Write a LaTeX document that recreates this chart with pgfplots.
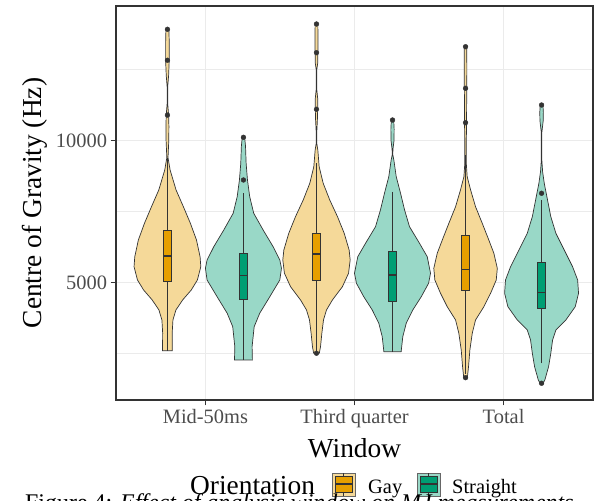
\documentclass[border=0pt]{standalone}
\usepackage{fontspec}
\setmainfont{Liberation Serif}
\usepackage{pgfplots}
\pgfplotsset{compat=1.18}
\usepgfplotslibrary{fillbetween,statistics}
\usepackage{pgfplotstable}

\definecolor{gayL}{RGB}{245,217,153}
\definecolor{strL}{RGB}{153,216,199}
\definecolor{gayD}{HTML}{E69F00}
\definecolor{strD}{HTML}{009E73}
\definecolor{gridc}{HTML}{EBEBEB}
\definecolor{dk}{HTML}{333333}

\pgfplotstableread{
y w
13920 0.010
13500 0.012
12800 0.012
12300 0.008
11900 0.002
11300 0.002
10900 0.008
10500 0.010
10000 0.009
9400 0.004
8967 0.018
8263 0.058
7675 0.107
7091 0.154
6503 0.195
5915 0.219
5563 0.224
5095 0.201
4743 0.160
4391 0.102
4039 0.057
3687 0.037
3230 0.032
2606 0.033
}\vMG
\pgfplotstableread{
y w
10118 0.008
9800 0.014
9203 0.018
8615 0.027
8027 0.042
7443 0.069
6855 0.132
6267 0.199
5799 0.244
5507 0.255
5095 0.244
4507 0.177
3923 0.109
3451 0.072
3099 0.065
2747 0.058
2279 0.060
}\vMS
\pgfplotstableread{
y w
14106 0.009
13700 0.010
13300 0.010
12723 0.008
12500 0.002
11800 0.002
11490 0.008
11104 0.008
10727 0.006
10300 0.002
9900 0.002
9671 0.009
9083 0.018
8499 0.045
7911 0.089
7323 0.141
6739 0.186
6151 0.219
5799 0.226
5331 0.215
4859 0.174
4391 0.107
4039 0.067
3687 0.047
3219 0.036
2747 0.027
2516 0.019
}\vTG
\pgfplotstableread{
y w
10727 0.008
10400 0.011
10000 0.010
9700 0.003
9500 0.002
9319 0.009
8731 0.025
8147 0.054
7559 0.081
6971 0.114
6387 0.181
5915 0.233
5331 0.255
4979 0.242
4507 0.193
4039 0.136
3571 0.092
3099 0.069
2571 0.058
}\vTS
\pgfplotstableread{
y w
13307 0.008
12500 0.009
11843 0.008
11000 0.007
10632 0.007
10000 0.005
9200 0.005
8731 0.011
8263 0.034
7675 0.067
7091 0.112
6503 0.156
6035 0.190
5507 0.213
5095 0.206
4627 0.168
4155 0.123
3687 0.067
3219 0.045
2631 0.029
2043 0.020
1656 0.012
}\vOG
\pgfplotstableread{
y w
11255 0.009
11000 0.012
10700 0.011
10300 0.002
9300 0.002
8907 0.007
8499 0.018
7911 0.040
7323 0.062
6739 0.096
6151 0.152
5563 0.208
5095 0.242
4627 0.248
4155 0.226
3687 0.163
3335 0.096
2983 0.074
2515 0.062
2043 0.047
1575 0.022
1459 0.010
}\vOS

\newcommand{\violin}[4]{%
  \addplot[draw=none, name path=#4R] table[x expr=#2+\thisrow{w}, y=y] {#1};
  \addplot[draw=none, name path=#4L] table[x expr=#2-\thisrow{w}, y=y] {#1};
  \addplot[fill=#3, draw=dk, line width=0.7bp] fill between[of=#4R and #4L, reverse=true];
}
\newcommand{\bx}[7]{%
  \addplot[fill=#7, draw=dk, line width=0.7bp,
    boxplot prepared={median=#1, upper quartile=#2, lower quartile=#3,
      upper whisker=#4, lower whisker=#5, draw position=#6,
      box extend=0.054, whisker extend=0}] coordinates {};
}

\begin{document}
\begin{tikzpicture}
\begin{axis}[
  at={(116bp,101bp)}, anchor=south west,
  scale only axis, width=477bp, height=394bp,
  xmin=0.4, xmax=3.6, ymin=870, ymax=14740,
  xtick={1,2,3}, xticklabels={Mid-50ms, Third quarter, Total},
  ytick={5000,10000}, minor ytick={2500,7500,12500},
  scaled y ticks=false,
  grid=both,
  major grid style={color=gridc, line width=1.3bp},
  minor grid style={color=gridc, line width=0.7bp},
  axis line style={color=dk, line width=1.1bp},
  tick align=outside, tick pos=left,
  major tick length=5.5bp, minor tick length=0pt,
  tick style={color=dk, line width=1bp},
  /pgf/number format/assume math mode=true,
  /pgf/number format/set thousands separator={},
  tick label style={font=\fontsize{20.5}{24}\selectfont, color=black!70},
  xlabel={Window},
  xlabel style={font=\fontsize{27.5}{30}\selectfont, at={(axis description cs:0.5,-0.147)}, anchor=base},
  ylabel={Centre of Gravity (Hz)},
  ylabel style={font=\fontsize{27.5}{30}\selectfont, at={(axis description cs:-0.157,0.5)}, anchor=base},
  boxplot/draw direction=y,
  boxplot/every median/.style={line width=1.5bp},
]
\violin{\vMG}{0.745}{gayL}{mg}
\violin{\vMS}{1.255}{strL}{ms}
\violin{\vTG}{1.745}{gayL}{tg}
\violin{\vTS}{2.255}{strL}{ts}
\violin{\vOG}{2.745}{gayL}{og}
\violin{\vOS}{3.255}{strL}{os}

\bx{5940}{6855}{5035}{9400}{2606}{0.745}{gayD}
\bx{5246}{6035}{4426}{8147}{2279}{1.255}{strD}
\bx{6010}{6739}{5070}{9200}{2600}{1.745}{gayD}
\bx{5271}{6091}{4356}{8203}{2571}{2.255}{strD}
\bx{5472}{6679}{4718}{9500}{1800}{2.745}{gayD}
\bx{4648}{5704}{4098}{7911}{2163}{3.255}{strD}

\addplot[only marks, mark=*, mark size=2.4bp, color=dk] coordinates {
(0.745,13920) (0.745,12830) (0.745,10900)
(1.255,10118) (1.255,8615)
(1.745,14106) (1.745,13096) (1.745,11104) (1.745,2516)
(2.255,10727)
(2.745,13307) (2.745,11843) (2.745,10632) (2.745,1656)
(3.255,11255) (3.255,8147) (3.255,1459)
};
\end{axis}

% legend
\draw[fill=gayL, draw=black!60, line width=0.6bp] (332bp,5bp) rectangle (355bp,28bp);
\draw[fill=gayD, draw=dk, line width=0.6bp] (335bp,9bp) rectangle (352bp,25bp);
\draw[dk, line width=1.2bp] (335bp,17bp) -- (352bp,17bp);
\draw[dk, line width=0.6bp] (343.5bp,5bp) -- (343.5bp,9bp) (343.5bp,25bp) -- (343.5bp,28bp);

\draw[fill=strL, draw=black!60, line width=0.6bp] (417bp,5bp) rectangle (440bp,28bp);
\draw[fill=strD, draw=dk, line width=0.6bp] (420bp,9bp) rectangle (437bp,25bp);
\draw[dk, line width=1.2bp] (420bp,17bp) -- (437bp,17bp);
\draw[dk, line width=0.6bp] (428.5bp,5bp) -- (428.5bp,9bp) (428.5bp,25bp) -- (428.5bp,28bp);

\node[anchor=base west, inner sep=0pt, font=\fontsize{27.5}{30}\selectfont] at (190bp,7bp) {Orientation};
\node[anchor=base west, inner sep=0pt, font=\fontsize{20.5}{24}\selectfont] at (368bp,8bp) {Gay};
\node[anchor=base west, inner sep=0pt, font=\fontsize{20.5}{24}\selectfont] at (452bp,8bp) {Straight};

\node[anchor=base west, inner sep=0pt, font=\fontsize{24}{28}\selectfont] at (25bp,-9bp) {Figure 4: \textit{Effect of analysis window on MJ measurements}};

\pgfresetboundingbox
\path[use as bounding box] (0,0) rectangle (597bp,501bp);
\end{tikzpicture}
\end{document}
